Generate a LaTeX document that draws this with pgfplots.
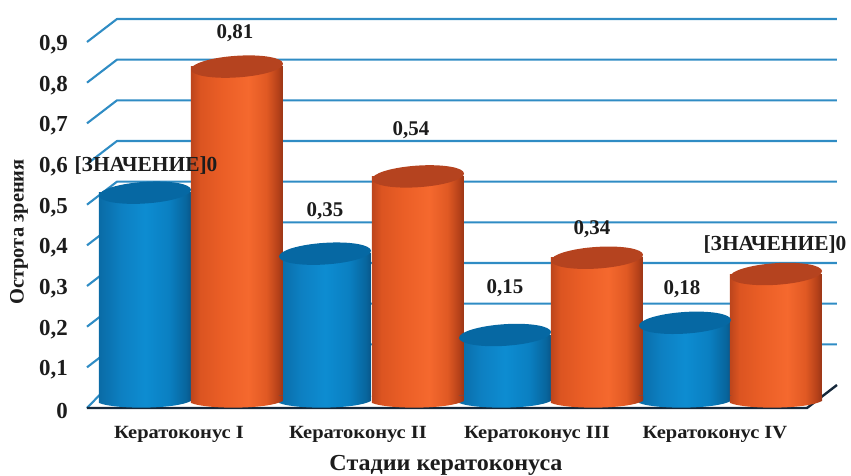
\documentclass[border=0pt]{standalone}
\usepackage{pgfplots}
\pgfplotsset{compat=1.18}
\usepackage{fontspec}
\setmainfont{Liberation Serif}

% horizontal light falloff across the cylinders (stops live in 25bp..75bp)
\pgfdeclarehorizontalshading{cylblue}{100bp}{
  rgb(0bp)=(.04,.42,.65); rgb(25bp)=(.04,.42,.65); rgb(37bp)=(.05,.50,.76);
  rgb(50bp)=(.05,.55,.82); rgb(63bp)=(.04,.50,.76); rgb(72bp)=(.03,.40,.62);
  rgb(75bp)=(.03,.34,.54); rgb(100bp)=(.03,.34,.54)}
\pgfdeclarehorizontalshading{cylorange}{100bp}{
  rgb(0bp)=(.74,.27,.11); rgb(25bp)=(.74,.27,.11); rgb(30bp)=(.86,.33,.13);
  rgb(42bp)=(.92,.37,.15); rgb(56bp)=(.96,.41,.18); rgb(66bp)=(.88,.35,.14);
  rgb(72bp)=(.72,.26,.10); rgb(75bp)=(.60,.21,.09); rgb(100bp)=(.60,.21,.09)}

% tilted cap of a cylinder
\pgfdeclareplotmark{cylcap}{%
  \pgfpathellipse{\pgfpointorigin}{\pgfpoint{46bp}{3bp}}{\pgfpoint{-0.6bp}{10.8bp}}%
  \pgfusepathqfill}
% rounded foot of a cylinder, shaded like its body
\newcommand{\footpath}{%
  \pgfpathmoveto{\pgfpoint{-46bp}{0.5bp}}%
  \pgfpathlineto{\pgfpoint{46bp}{0.5bp}}%
  \pgfpathlineto{\pgfpoint{46bp}{-5bp}}%
  \pgfpathcurveto{\pgfpoint{30bp}{-13.5bp}}{\pgfpoint{-30bp}{-13.5bp}}{\pgfpoint{-46bp}{-7bp}}%
  \pgfpathclose}
\pgfdeclareplotmark{footblue}{\footpath\pgfshadepath{cylblue}{0}\pgfusepath{discard}}
\pgfdeclareplotmark{footorange}{\footpath\pgfshadepath{cylorange}{0}\pgfusepath{discard}}

\definecolor{gridblue}{HTML}{2F8CC4}
\definecolor{floorink}{HTML}{16283A}
\definecolor{capblue}{HTML}{0668A3}
\definecolor{caporange}{HTML}{B5431F}
\definecolor{inkdark}{HTML}{1C1C1C}

\newcommand{\catlabel}[1]{\scalebox{1.1}[1]{#1}}

\begin{document}
\begin{tikzpicture}
\useasboundingbox (-87bp,-68bp) rectangle (764bp,408bp);
\begin{axis}[
  anchor=south west, at={(0,0)},
  scale only axis, width=750bp, height=366bp,
  xmin=87, xmax=837, ymin=0, ymax=0.9,
  clip=false,
  axis line style={draw=none},
  tick style={draw=none},
  xtick={179,358,537,715},
  xticklabels={\catlabel{Кератоконус I},\catlabel{Кератоконус II},\catlabel{Кератоконус III},\catlabel{Кератоконус IV}},
  xticklabel style={font=\fontsize{18.7}{19}\selectfont\bfseries, text=inkdark, yshift=-14.5bp},
  ytick={0,0.1,0.2,0.3,0.4,0.5,0.6,0.7,0.8,0.9},
  yticklabel style={font=\fontsize{23}{24}\selectfont\bfseries, text=inkdark,
    anchor=east, xshift=-19bp, yshift=-2.5bp, inner sep=0pt,
    /pgf/number format/fixed, /pgf/number format/precision=1,
    /pgf/number format/use comma, /pgf/number format/assume math mode=true},
  ytick pos=left, xtick pos=bottom,
  xlabel={\scalebox{1.05}[1]{Стадии кератоконуса}},
  xlabel style={at={(axis cs:446,-0.14)}, anchor=center,
    font=\fontsize{23}{24}\selectfont\bfseries, text=inkdark},
  ylabel={Острота зрения},
  ylabel style={at={(axis cs:19,0.433)}, anchor=center,
    font=\fontsize{20.5}{21}\selectfont\bfseries, text=inkdark},
  unbounded coords=jump,
]
% back-wall grid with its slanted return to the front edge
\addplot[gridblue, line width=2.1bp, line join=round] coordinates {
  (87,0)(100,0.033)                 (100,nan)
  (87,0.1)(117,0.1566)(837,0.1566)  (837,nan)
  (87,0.2)(117,0.2566)(837,0.2566)  (837,nan)
  (87,0.3)(117,0.3566)(837,0.3566)  (837,nan)
  (87,0.4)(117,0.4566)(837,0.4566)  (837,nan)
  (87,0.5)(117,0.5566)(837,0.5566)  (837,nan)
  (87,0.6)(117,0.6566)(837,0.6566)  (837,nan)
  (87,0.7)(117,0.7566)(837,0.7566)  (837,nan)
  (87,0.8)(117,0.8566)(837,0.8566)  (837,nan)
  (87,0.9)(117,0.9566)(837,0.9566)
};
% floor edge
\addplot[floorink, line width=2.4bp, line join=miter] coordinates {
  (87,0)(807,0)(837,0.0566)
};
% first series: one plot per cylinder so that each carries its own shading
\pgfplotsset{
  body/.style={ybar, bar shift=0pt, bar width=92, draw=none, shading=#1, yshift=12bp},
  foot/.style={only marks, mark=#1, yshift=12bp},
  cap/.style={only marks, mark=cylcap, mark options={fill=#1,draw=none}, yshift=12bp},
}
\addplot[body=cylblue] coordinates {(145,0.50)};
\addplot[body=cylblue] coordinates {(325,0.35)};
\addplot[body=cylblue] coordinates {(505,0.15)};
\addplot[body=cylblue] coordinates {(685,0.18)};
\addplot[foot=footblue] coordinates {(145,0)(325,0)(505,0)(685,0)};
\addplot[cap=capblue] coordinates {(145,0.50)(325,0.35)(505,0.15)(685,0.18)};
% second series
\addplot[body=cylorange] coordinates {(237,0.81)};
\addplot[body=cylorange] coordinates {(418,0.54)};
\addplot[body=cylorange] coordinates {(597,0.34)};
\addplot[body=cylorange] coordinates {(776,0.30)};
\addplot[foot=footorange] coordinates {(237,0)(418,0)(597,0)(776,0)};
\addplot[cap=caporange] coordinates {(237,0.81)(418,0.54)(597,0.34)(776,0.30)};
% value captions
\tikzset{val/.style={font=\fontsize{21}{22}\selectfont\bfseries, text=inkdark, inner sep=0pt},
         wide/.style={font=\fontsize{21.5}{22}\selectfont\bfseries, text=inkdark, inner sep=0pt}}
\node[val] at (axis cs:235,0.922) {0,81};
\node[val] at (axis cs:325,0.484) {0,35};
\node[val] at (axis cs:411,0.684) {0,54};
\node[val] at (axis cs:505,0.295) {0,15};
\node[val] at (axis cs:592,0.440) {0,34};
\node[val] at (axis cs:682,0.293) {0,18};
\node[wide] at (axis cs:146,0.597) {[ЗНАЧЕНИЕ]0};
\node[wide] at (axis cs:775,0.403) {[ЗНАЧЕНИЕ]0};
\end{axis}
\end{tikzpicture}
\end{document}
